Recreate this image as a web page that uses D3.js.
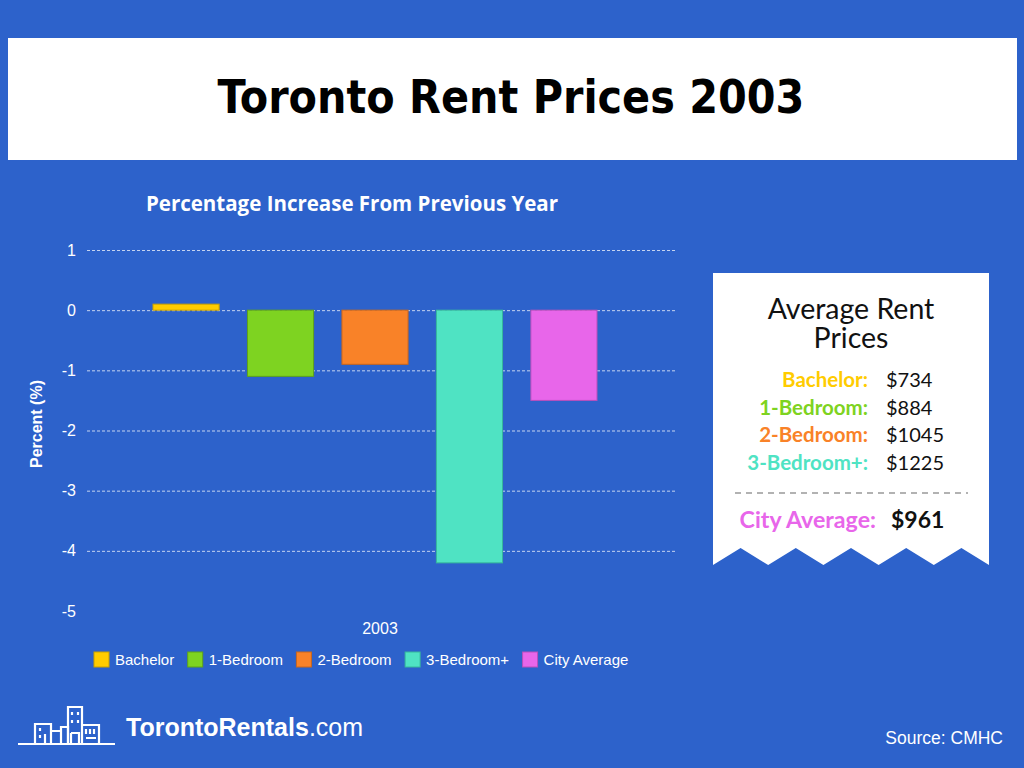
<!DOCTYPE html>
<html>
<head>
<meta charset="utf-8">
<script src="https://cdn.jsdelivr.net/npm/d3@7"></script>
<style>
  html, body { margin: 0; padding: 0; background: #2d62cb; }
  svg { display: block; }
</style>
</head>
<body>
<script>
const
  categories = ['Bachelor', '1-Bedroom', '2-Bedroom', '3-Bedroom+', 'City Average'],
  changes = [0.1, -1.1, -0.9, -4.2, -1.5],
  colors = ['#ffcc00', '#7ed321', '#f98228', '#4fe3c3', '#e866ea'],
  borders = ['#c9a100', '#5ea318', '#c9661c', '#36b89c', '#b94fbb'],
  yTicks = [1, 0, -1, -2, -3, -4, -5],
  year = '2003',
  rentLabels = ['Bachelor:', '1-Bedroom:', '2-Bedroom:', '3-Bedroom+:'],
  rentValues = ['$734', '$884', '$1045', '$1225'],
  cityAverage = '$961';

const
  W = 1024,
  H = 768,
  BG = '#2d62cb',
  SANS = '"Liberation Sans", Arial, sans-serif',
  LATO = 'Lato, "Open Sans", sans-serif';

let svg = d3.select('body').append('svg')
  .attr('width', W)
  .attr('height', H);

svg.append('rect').attr('width', W).attr('height', H).attr('fill', BG);

// header banner
svg.append('rect')
  .attr('x', 8).attr('y', 38)
  .attr('width', 1009).attr('height', 122)
  .attr('fill', '#fff');

svg.append('text')
  .attr('x', 511).attr('y', 113)
  .attr('text-anchor', 'middle')
  .style('font-family', '"DejaVu Sans Condensed", "DejaVu Sans", sans-serif')
  .style('font-stretch', 'condensed')
  .style('font-weight', 'bold')
  .style('font-size', '46px')
  .attr('fill', '#000')
  .text('Toronto Rent Prices ' + year);

// chart
const plot = { left: 87, right: 675, top: 250, bottom: 611 };

let y = d3.scaleLinear()
  .domain([1, -5])
  .range([plot.top, plot.bottom]);

let xYear = d3.scaleBand()
  .domain([year])
  .range([plot.left, plot.right]);

let x = d3.scaleBand()
  .domain(categories)
  .range([153, 597])
  .paddingInner(0.3);

svg.append('text')
  .attr('x', 352).attr('y', 211)
  .attr('text-anchor', 'middle')
  .style('font-family', '"Open Sans", sans-serif')
  .style('font-weight', 'bold')
  .style('font-size', '20.5px')
  .attr('fill', '#fff')
  .text('Percentage Increase From Previous Year');

// gridlines + tick labels via axis
let yAxis = svg.append('g')
  .attr('transform', `translate(${plot.left},0)`)
  .call(d3.axisLeft(y)
    .tickValues(yTicks)
    .tickSize(-(plot.right - plot.left))
    .tickPadding(11)
    .tickFormat((d) => String(d)));

yAxis.select('.domain').remove();
yAxis.selectAll('.tick line')
  .attr('stroke', '#dfe7f7')
  .attr('stroke-width', 1)
  .attr('stroke-dasharray', '3,2')
  .attr('opacity', (d) => (d === -5 ? 0 : 0.85));
yAxis.selectAll('.tick text')
  .attr('fill', '#fff')
  .style('font-family', SANS)
  .style('font-size', '16px');

svg.append('text')
  .attr('transform', 'translate(42,424) rotate(-90)')
  .attr('text-anchor', 'middle')
  .style('font-family', SANS)
  .style('font-weight', 'bold')
  .style('font-size', '16px')
  .attr('fill', '#fff')
  .text('Percent (%)');

// bars
svg.append('g')
  .selectAll('rect')
  .data(categories)
  .enter()
  .append('rect')
  .attr('x', (d) => x(d))
  .attr('width', x.bandwidth())
  .attr('y', (d, i) => y(Math.max(0, changes[i])))
  .attr('height', (d, i) => Math.abs(y(changes[i]) - y(0)))
  .attr('fill', (d, i) => colors[i])
  .attr('stroke', (d, i) => borders[i])
  .attr('stroke-width', 1);

// year label
svg.append('text')
  .attr('x', xYear(year) + xYear.bandwidth() / 2 - 1).attr('y', 634)
  .attr('text-anchor', 'middle')
  .style('font-family', SANS)
  .style('font-size', '16px')
  .attr('fill', '#fff')
  .text(year);

// legend
let legend = svg.append('g').attr('transform', 'translate(94,652)'),
  lx = 0;

categories.forEach((c, i) => {
  let item = legend.append('g').attr('transform', `translate(${lx},0)`);

  item.append('rect')
    .attr('width', 15).attr('height', 15)
    .attr('fill', colors[i])
    .attr('stroke', borders[i]);

  let t = item.append('text')
    .attr('x', 21).attr('y', 12.5)
    .style('font-family', SANS)
    .style('font-size', '15px')
    .attr('fill', '#fff')
    .text(c);

  lx += 21 + t.node().getComputedTextLength() + 13.5;
});

// price card
const card = { left: 713, right: 989, top: 273, bottom: 565, notch: 548, teeth: 5 };

let pts = [[card.left, card.top], [card.right, card.top], [card.right, card.bottom]],
  tooth = (card.right - card.left) / card.teeth;

for (let i = card.teeth - 1; i >= 0; i--) {
  pts.push([card.left + tooth * (i + 0.5), card.notch]);
  pts.push([card.left + tooth * i, card.bottom]);
}

svg.append('path')
  .attr('d', d3.line()(pts) + 'Z')
  .attr('fill', '#fff');

['Average Rent', 'Prices'].forEach((line, i) => {
  svg.append('text')
    .attr('x', 851)
    .attr('y', 319 + i * 29)
    .attr('text-anchor', 'middle')
    .style('font-family', LATO)
    .style('font-size', '28.5px')
    .attr('fill', '#111')
    .text(line);
});

let rows = svg.append('g');

rentLabels.forEach((label, i) => {
  rows.append('text')
    .attr('x', 868).attr('y', 387 + i * 27.5)
    .attr('text-anchor', 'end')
    .style('font-family', LATO)
    .style('font-weight', 'bold')
    .style('font-size', '20.5px')
    .attr('fill', colors[i])
    .text(label);

  rows.append('text')
    .attr('x', 886).attr('y', 387 + i * 27.5)
    .style('font-family', LATO)
    .style('font-size', '20px')
    .attr('fill', '#111')
    .text(rentValues[i]);
});

svg.append('line')
  .attr('x1', 735).attr('x2', 968)
  .attr('y1', 493).attr('y2', 493)
  .attr('stroke', '#666')
  .attr('stroke-width', 1.2)
  .attr('stroke-dasharray', '6,5');

svg.append('text')
  .attr('x', 876).attr('y', 528)
  .attr('text-anchor', 'end')
  .style('font-family', LATO)
  .style('font-weight', 'bold')
  .style('font-size', '23.2px')
  .attr('fill', colors[4])
  .text('City Average:');

svg.append('text')
  .attr('x', 891).attr('y', 528)
  .style('font-family', LATO)
  .style('font-weight', 'bold')
  .style('font-size', '23px')
  .attr('fill', '#111')
  .text(cityAverage);

// footer logo
let logo = svg.append('g')
  .attr('fill', 'none')
  .attr('stroke', '#fff')
  .attr('stroke-width', 2.2);

logo.append('path').attr('d', 'M18,744 H115');
logo.append('path').attr('d', 'M35,744 V724 H51 V744');
logo.append('path').attr('d', 'M51,731 H61 V727 H68 V744 M61,731 V744');
logo.append('path').attr('d', 'M68,744 V707 H82 V744');
logo.append('path').attr('d', 'M82,725 H99 V744');
logo.append('path').attr('d', 'M45,734 V744 M40,728 v3 M40,735 v3');
logo.append('path').attr('d', 'M72,712 v3 M72,720 v3 M78,712 v3 M78,720 v3 M71,733 H79 V744 M71,733 V744');
logo.append('path').attr('d', 'M86,729 v5 M90,729 v5 M94,729 v5 M86,738 H96');

let brand = svg.append('text')
  .attr('x', 126).attr('y', 736)
  .style('font-family', SANS)
  .style('font-size', '25px')
  .attr('fill', '#fff');

brand.append('tspan').style('font-weight', 'bold').text('TorontoRentals');
brand.append('tspan').text('.com');

svg.append('text')
  .attr('x', 1003).attr('y', 744)
  .attr('text-anchor', 'end')
  .style('font-family', SANS)
  .style('font-size', '17.5px')
  .attr('fill', '#fff')
  .text('Source: CMHC');
</script>
</body>
</html>
